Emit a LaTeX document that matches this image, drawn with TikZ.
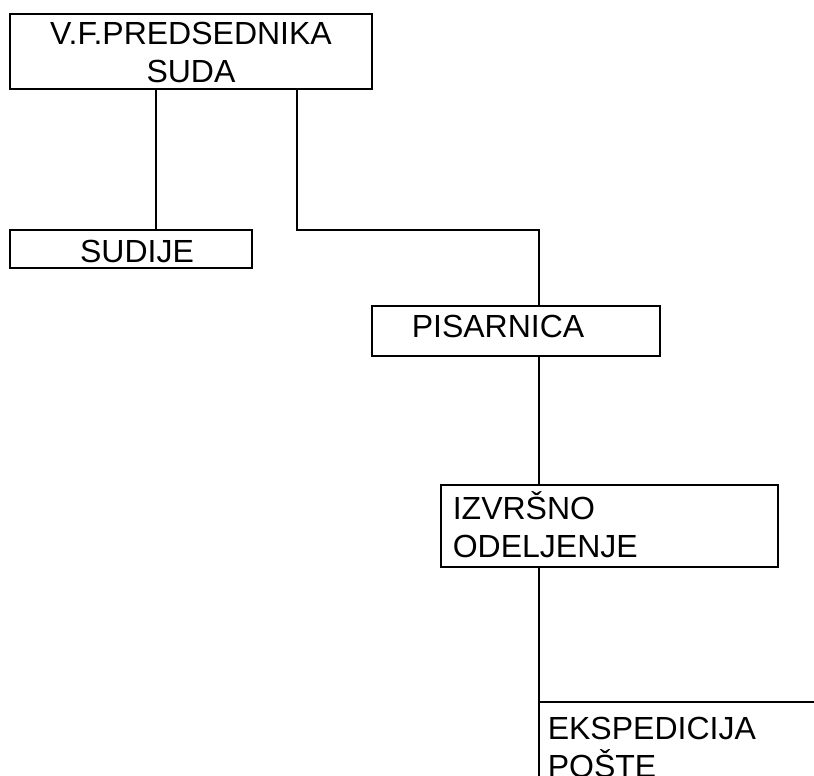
\documentclass[tikz,border=0pt]{standalone}
\usepackage{fontspec}
\setmainfont{Liberation Sans}
\begin{document}
\begin{tikzpicture}[x=1pt,y=-1pt,line width=1.6pt,
    box/.style={draw,rectangle,anchor=north west,inner sep=0,outer sep=0},
    txt/.style={inner sep=0,font=\fontsize{32}{38}\selectfont}]
  \useasboundingbox (0,0) rectangle (814,776);
  \clip (0,0) rectangle (814,776);
  % boxes
  \node[box,minimum width=362pt,minimum height=75pt] (pred) at (10,14) {};
  \node[box,minimum width=242pt,minimum height=38pt] (sud) at (10,230) {};
  \node[box,minimum width=288pt,minimum height=50pt] (pis) at (372,306) {};
  \node[box,minimum width=337pt,minimum height=82pt] (izv) at (441,485) {};
  \node[box,minimum width=300pt,minimum height=120pt] (eks) at (539,702) {};
  % texts (base = last line)
  \node[txt,align=center,anchor=base] (predT) at (191,82) {V.F.PREDSEDNIKA\\SUDA};
  \node[txt,anchor=base] (sudT) at (137,262) {SUDIJE};
  \node[txt,anchor=base west] (pisT) at (411,337) {PISARNICA};
  \node[txt,align=left,anchor=base west] (izvT) at (452,557) {IZVRŠNO\\ODELJENJE};
  \node[txt,align=left,anchor=base west] (eksT) at (547,777) {EKSPEDICIJA\\POŠTE};
  % lines
  \coordinate (sx) at (156,0);
  \coordinate (px) at (297,0);
  \coordinate (mx) at (539,230);
  \draw (sx |- pred.south) -- (sx |- sud.north);
  \draw (px |- pred.south) -- (px |- mx) -- (mx) -- (mx |- pis.north);
  \draw (mx |- pis.south) -- (mx |- izv.north);
  \draw (mx |- izv.south) -- (mx |- eks.north);
\end{tikzpicture}
\end{document}
